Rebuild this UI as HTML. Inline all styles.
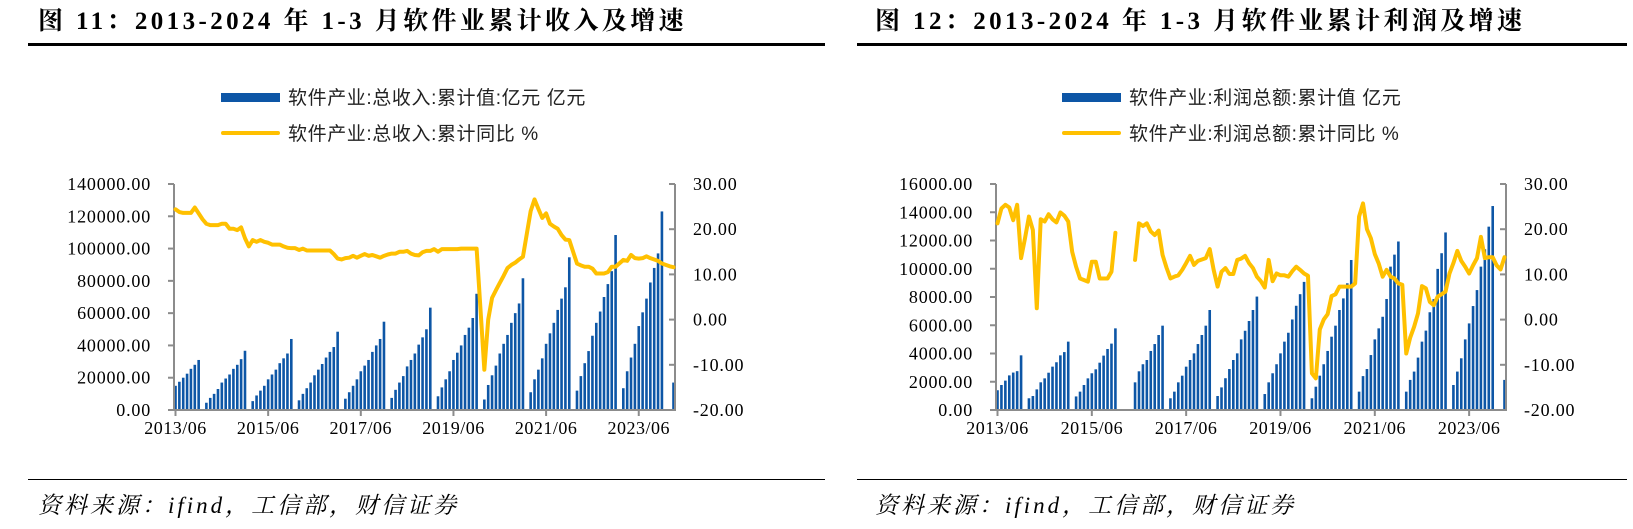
<!DOCTYPE html>
<html><head><meta charset="utf-8">
<style>
html,body{margin:0;padding:0;background:#fff;}
svg{display:block;}
.t{font-family:"Liberation Serif","Noto Serif CJK SC",serif;}
.s{font-family:"Liberation Sans","Noto Sans CJK SC",sans-serif;}
</style></head>
<body>
<svg id="root" width="1633" height="529" viewBox="0 0 1633 529" xmlns="http://www.w3.org/2000/svg" xml:space="preserve">
  <g>
    <text class="t" x="38" y="29" font-size="25" letter-spacing="3.4" font-weight="bold" fill="#000">图 11：2013-2024 年 1-3 月软件业累计收入及增速</text>
    <rect x="28" y="43" width="797" height="3" fill="#000"/>
    <rect x="221" y="93" width="59" height="9" fill="#0d56a6"/>
    <text class="s" x="288" y="104" font-size="19" letter-spacing="0.6" fill="#222">软件产业:总收入:累计值:亿元  亿元</text>
    <rect x="221" y="131" width="59" height="4" fill="#ffc000" rx="2"/>
    <text class="s" x="288" y="140" font-size="19" letter-spacing="0.6" fill="#222">软件产业:总收入:累计同比  %</text>
    <rect x="28" y="479" width="797" height="1" fill="#000"/>
    <text class="t" x="38" y="513" font-size="23" letter-spacing="3" font-style="italic" fill="#000">资料来源：ifind，工信部，财信证券</text>
  </g>
  <g>
    <text class="t" x="875" y="29" font-size="25" letter-spacing="3.4" font-weight="bold" fill="#000">图 12：2013-2024 年 1-3 月软件业累计利润及增速</text>
    <rect x="857" y="43" width="770" height="3" fill="#000"/>
    <rect x="1062" y="93" width="59" height="9" fill="#0d56a6"/>
    <text class="s" x="1129" y="104" font-size="19" letter-spacing="0.6" fill="#222">软件产业:利润总额:累计值  亿元</text>
    <rect x="1062" y="131" width="59" height="4" fill="#ffc000" rx="2"/>
    <text class="s" x="1129" y="140" font-size="19" letter-spacing="0.6" fill="#222">软件产业:利润总额:累计同比  %</text>
    <rect x="857" y="479" width="770" height="1" fill="#000"/>
    <text class="t" x="875" y="513" font-size="23" letter-spacing="3" font-style="italic" fill="#000">资料来源：ifind，工信部，财信证券</text>
  </g>
  <g id="leftChart"></g>
  <g id="rightChart"></g>
</svg>
<script>
// Months indexed from 2013/06 (index 0) to 2024/03 (index 129)
var xTickLabels = ["2013/06","2015/06","2017/06","2019/06","2021/06","2023/06"];
var xTickIndex = [0,24,48,72,96,120];
var leftAxisTicks = [0,20000,40000,60000,80000,100000,120000,140000];
var rightAxisTicks = [-20,-10,0,10,20,30];
var profitAxisTicks = [0,2000,4000,6000,8000,10000,12000,14000,16000];

var revenueBars = [
15000,17500,20000,22500,25500,28000,31000,
null,4500,7500,10000,13000,17000,19500,22000,25500,28000,31500,36700,
null,5500,9000,12000,15000,19000,22000,25000,29000,32000,35000,44000,
null,6000,10000,13500,17000,21500,25000,28500,32500,36000,39000,48500,
null,7000,11000,15000,19000,24000,27500,31000,36000,40000,44000,54700,
null,7500,12500,17000,21000,27000,31000,35000,40500,45000,50000,63400,
null,8500,14000,19000,24000,31000,35500,40000,46500,51000,57000,72000,
null,6500,15500,21500,27500,35000,41000,46500,54000,60000,66000,81600,
null,11000,19000,25000,32000,41000,47500,54000,62000,69000,76000,94600,
null,12000,21000,29000,36500,46000,54000,61000,70000,78000,86000,108400,
null,13500,24000,32500,41000,52000,60500,69000,79000,88000,97000,123000,
null,null,17000];

var revenueGrowth = [
24.4,23.8,23.6,23.6,23.6,24.8,23.5,
22.2,21.2,20.9,20.9,20.9,21.2,21.2,20.1,20.1,19.8,20.4,18.0,
16.2,17.6,17.2,17.6,17.2,17.0,16.6,16.6,16.6,16.2,15.9,15.8,
15.8,15.4,15.7,15.3,15.3,15.3,15.3,15.3,15.3,15.3,14.5,13.5,
13.3,13.6,13.7,14.1,13.7,14.1,14.5,14.1,14.3,14.0,13.7,14.1,
14.4,14.6,14.6,15.0,15.0,15.2,14.6,14.3,14.2,14.9,15.2,15.2,
15.6,15.0,15.6,15.6,15.6,15.6,15.6,15.7,15.7,15.7,15.7,15.7,
null,-11.1,0,4.8,6.5,8.1,9.7,11.4,12.1,12.6,13.3,13.9,
null,24.0,26.6,24.5,22.5,23.5,21.2,20.6,20.1,18.7,17.7,17.6,
null,12.4,12.0,11.7,11.7,11.3,10.2,10.2,10.2,10.5,11.7,11.7,
null,13.2,13.0,14.3,13.6,13.5,13.6,14.0,13.6,13.3,13.0,12.4,
null,11.8,11.6];

var profitBars = [
1400,1770,2080,2450,2650,2750,3870,
null,830,990,1460,1960,2240,2640,3070,3380,3870,4100,4840,
null,960,1300,1770,2240,2600,2880,3350,3850,4320,4700,5780,
null,null,null,null,1958,2740,3240,3540,4180,4670,5310,5970,
null,830,1300,1958,2430,3068,3540,4010,4670,5310,5970,7080,
null,990,1600,2250,2900,3540,4010,5000,5610,6300,7080,8030,
null,1130,1958,2600,3240,4010,4840,5470,6410,7380,8200,9070,
null,830,1650,2430,3240,4180,5190,5970,7080,7900,8970,10620,
null,1300,2400,2900,3890,5000,5780,6600,7860,10150,11000,11930,
null,1300,2130,2720,3710,4840,5620,6920,7850,9990,11100,12570,
null,1770,2720,3660,5000,6130,7360,8490,10150,11380,12980,14440,
null,null,2130];

var profitGrowth = [
21.3,24.6,25.4,24.8,22.0,25.4,13.6,
18.0,22.8,19.8,2.5,22.2,21.7,23.3,22.2,21.5,23.7,23.0,21.7,
15.0,11.7,9.1,null,8.4,12.8,12.8,9.1,9.1,9.1,10.6,19.2,
null,null,null,null,13.2,21.3,20.7,21.3,19.5,18.7,19.7,14.3,
11.5,9.1,9.5,9.8,11.0,12.5,14.1,12.1,13.0,13.3,13.6,15.6,
11.0,7.3,10.6,11.4,10.1,10.1,13.2,13.5,14.1,12.5,11.4,9.5,
8.5,7.1,13.2,8.5,10.2,9.8,9.8,9.5,10.7,11.7,11.0,10.2,
9.7,-11.9,-13.0,-2.2,0,1.2,5.2,5.6,7.3,7.3,7.3,7.3,
8.0,22.8,25.7,20.0,18.0,14.5,12.4,9.5,11.0,9.5,9.1,8.0,
7.7,-7.5,-4.0,-1.6,1.4,7.4,6.9,3.9,3.2,5.1,5.6,6.2,
10.2,12.5,15.2,13.0,11.7,10.2,12.0,13.6,18.3,13.6,13.8,13.8,
12.0,11.1,13.8];

var NS = "http://www.w3.org/2000/svg";
function mk(tag, attrs, parent){
  var e = document.createElementNS(NS, tag);
  for (var k in attrs) e.setAttribute(k, attrs[k]);
  parent.appendChild(e);
  return e;
}
function fmt(v){ return v.toFixed(2); }

function drawChart(g, cfg){
  var x0 = cfg.x0, x1 = cfg.x1, yTop = 184, yBot = 410;
  var nMonths = 130;
  var k = (x1 - x0 - 3) / (nMonths - 1);
  function xs(i){ return x0 + 1.5 + i * k; }
  function yL(v){ return yBot - (v - cfg.lMin) / (cfg.lMax - cfg.lMin) * (yBot - yTop); }
  function yR(v){ return yBot - (v + 20) / 50 * (yBot - yTop); }

  var bg = mk('g', {}, g);
  
  
  cfg.bars.forEach(function(v, i){
    if (v === null) return;
    var y = yL(v);
    var r = mk('rect', {x: (xs(i) - 1.3).toFixed(2), y: y.toFixed(2), width: 2.6, height: (yBot - y).toFixed(2), fill: '#0d56a6'}, bg);
    
    
  });

  var ax = mk('g', {stroke: '#8c8c8c', 'stroke-width': 2, fill: 'none'}, g);
  
  
  mk('line', {x1: x0, y1: yTop, x2: x0, y2: yBot + 1}, ax);
  mk('line', {x1: x1, y1: yTop, x2: x1, y2: yBot + 1}, ax);
  mk('line', {x1: x0, y1: yBot, x2: x1, y2: yBot}, ax);

  cfg.lTicks.forEach(function(v){
    var y = yL(v);
    mk('line', {x1: x0 - 6, y1: y, x2: x0, y2: y}, ax);
    var t = mk('text', {x: cfg.lLabelX, y: y + 6, 'font-size': 18, 'letter-spacing': 0.8, 'text-anchor': 'end', fill: '#000', class: 't'}, g);
    t.textContent = fmt(v);
    
    
  });
  rightAxisTicks.forEach(function(v){
    var y = yR(v);
    mk('line', {x1: x1 - 6, y1: y, x2: x1, y2: y}, ax);
    var t = mk('text', {x: x1 + 18, y: y + 6, 'font-size': 18, 'letter-spacing': 0.8, 'text-anchor': 'start', fill: '#000', class: 't'}, g);
    t.textContent = fmt(v);
    
    
  });
  xTickIndex.forEach(function(mi, j){
    var x = xs(mi);
    mk('line', {x1: x, y1: yBot, x2: x, y2: yBot + 6}, ax);
    var t = mk('text', {x: x, y: yBot + 24, 'font-size': 18, 'letter-spacing': 0.5, 'text-anchor': 'middle', fill: '#000', class: 't'}, g);
    t.textContent = xTickLabels[j];
    
    
  });

  var segs = [], cur = [], gap = 0;
  cfg.line.forEach(function(v, i){
    if (v === null){ gap++; return; }
    if (gap > 1 && cur.length){ segs.push(cur); cur = []; }
    gap = 0;
    cur.push(xs(i).toFixed(2) + ',' + yR(v).toFixed(2));
  });
  if (cur.length) segs.push(cur);
  segs.forEach(function(s){
    var p = mk('polyline', {points: s.join(' '), fill: 'none', stroke: '#ffc000', 'stroke-width': 4, 'stroke-linejoin': 'round', 'stroke-linecap': 'round'}, g);
    
    
  });
}

drawChart(document.getElementById('leftChart'), {
  prefix: 'revenue', x0: 174, x1: 675, lMin: 0, lMax: 140000, lTicks: leftAxisTicks,
  lLabelX: 151, bars: revenueBars, line: revenueGrowth
});
drawChart(document.getElementById('rightChart'), {
  prefix: 'profit', x0: 996, x1: 1506, lMin: 0, lMax: 16000, lTicks: profitAxisTicks,
  lLabelX: 973, bars: profitBars, line: profitGrowth
});
</script>
</body></html>
